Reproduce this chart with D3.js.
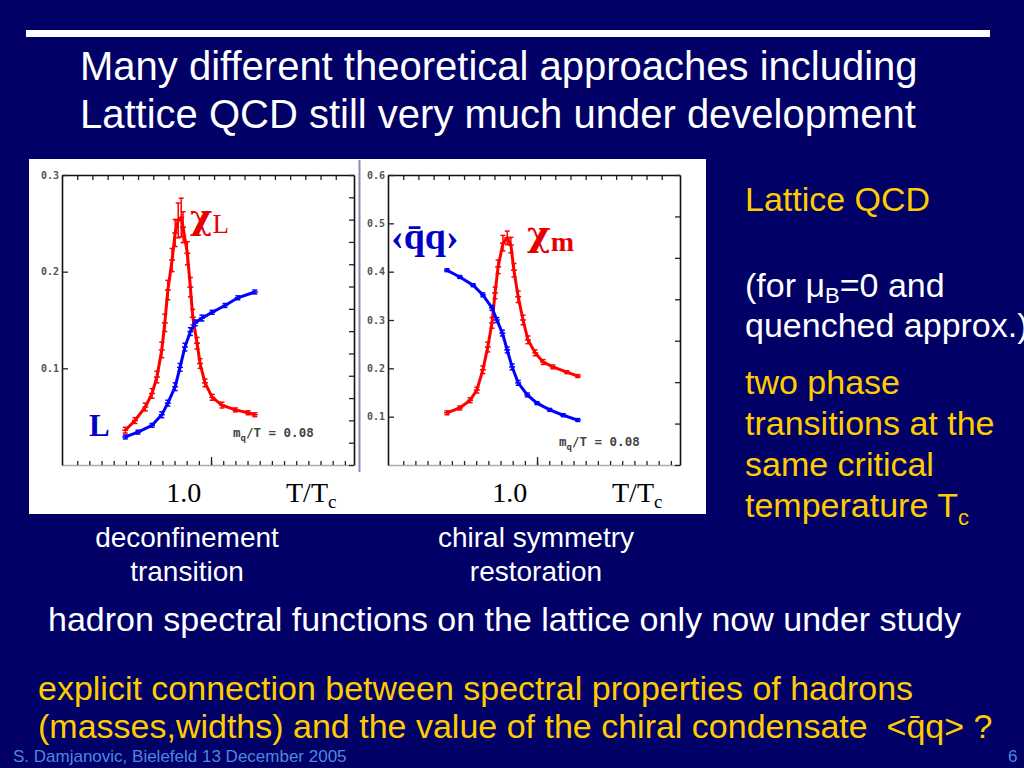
<!DOCTYPE html>
<html>
<head>
<meta charset="utf-8">
<script src="https://cdn.jsdelivr.net/npm/d3@7"></script>
<style>
  body { margin: 0; background: #000066; }
  svg { display: block; }
  .sans { font-family: Arial, "Liberation Sans", Helvetica, sans-serif; }
  .serif { font-family: "Times New Roman", "Liberation Serif", serif; }
  .greek { font-family: "DejaVu Serif", serif; }
  .tick text { font-family: "DejaVu Sans Mono", "Liberation Mono", monospace; font-size: 10px; fill: #555; font-weight: bold; }
</style>
</head>
<body>
<svg width="1024" height="768"></svg>
<script>
'use strict'

// ---- data (x = T/Tc) ----
const chiLT = [0.904, 0.920, 0.937, 0.948, 0.956, 0.964, 0.969, 0.974, 0.981, 0.986, 0.991, 0.996,
               0.999, 1.006, 1.011, 1.015, 1.022, 1.027, 1.035, 1.047, 1.063, 1.085, 1.106, 1.117]
const chiLV = [0.036, 0.046, 0.060, 0.074, 0.091, 0.119, 0.147, 0.181, 0.212, 0.240, 0.253, 0.256,
               0.246, 0.219, 0.184, 0.153, 0.126, 0.105, 0.085, 0.070, 0.062, 0.057, 0.054, 0.052]
const chiLErr = [0.003, 0.003, 0.004, 0.005, 0.006, 0.008, 0.009, 0.010, 0.012, 0.014, 0.018, 0.020,
                 0.016, 0.012, 0.010, 0.008, 0.006, 0.005, 0.004, 0.003, 0.003, 0.002, 0.002, 0.002]

const polyT = [0.904, 0.925, 0.948, 0.964, 0.974, 0.986, 0.994, 1.002, 1.011, 1.019, 1.030, 1.047, 1.068, 1.089, 1.117]
const polyV = [0.029, 0.034, 0.041, 0.052, 0.064, 0.081, 0.101, 0.122, 0.138, 0.147, 0.152, 0.158, 0.165, 0.173, 0.179]
const polyErr = [0.002, 0.002, 0.002, 0.003, 0.003, 0.004, 0.004, 0.004, 0.004, 0.003, 0.003, 0.002, 0.002, 0.002, 0.002]

const chiMT = [0.897, 0.918, 0.935, 0.946, 0.956, 0.964, 0.971, 0.976, 0.981, 0.989, 0.996,
               1.002, 1.007, 1.014, 1.022, 1.030, 1.042, 1.055, 1.071, 1.094, 1.112]
const chiMV = [0.108, 0.118, 0.134, 0.155, 0.197, 0.244, 0.294, 0.356, 0.410, 0.459, 0.470,
               0.455, 0.403, 0.348, 0.300, 0.259, 0.232, 0.213, 0.203, 0.192, 0.184]
const chiMErr = [0.004, 0.004, 0.005, 0.006, 0.008, 0.010, 0.011, 0.012, 0.014, 0.016, 0.014,
                 0.016, 0.014, 0.012, 0.010, 0.008, 0.006, 0.005, 0.004, 0.003, 0.003]

const pbpT = [0.897, 0.918, 0.940, 0.956, 0.971, 0.979, 0.988, 0.996, 1.004, 1.014, 1.029, 1.045, 1.066, 1.088, 1.112]
const pbpV = [0.403, 0.389, 0.372, 0.352, 0.325, 0.300, 0.273, 0.238, 0.203, 0.170, 0.145, 0.128, 0.114, 0.103, 0.093]
const pbpErr = [0.003, 0.003, 0.003, 0.004, 0.005, 0.005, 0.006, 0.006, 0.006, 0.005, 0.004, 0.003, 0.003, 0.003, 0.003]

const xDomain = [0.8, 1.28]
const topTicks = d3.range(0.825, 1.27, 0.025)
const bottomTicks = d3.range(0.825, 1.27, 0.02)
const bottomMajor = [1.045]
const leftYTicks = [0.1, 0.2, 0.3]
const rightYTicks = [0.1, 0.2, 0.3, 0.4, 0.5, 0.6]

const svg = d3.select('svg')
const yellow = '#ffcc00'
const red = '#ff0000'
const blue = '#0000ff'

svg.append('rect').attr('width', 1024).attr('height', 768).attr('fill', '#000066')

// top rule
svg.append('rect').attr('x', 26).attr('y', 30).attr('width', 964).attr('height', 7).attr('fill', '#fff')

// title
const title = ['Many different theoretical approaches including', 'Lattice QCD still very much under development']
svg.append('g').selectAll('text').data(title).enter().append('text')
    .attr('class', 'sans')
    .attr('x', 80)
    .attr('y', (d, i) => 80 + i * 48)
    .attr('fill', '#fff')
    .attr('font-size', 40)
    .text(d => d)

// white picture backgrounds
svg.append('rect').attr('x', 29).attr('y', 159).attr('width', 331).attr('height', 355).attr('fill', '#fff')
svg.append('rect').attr('x', 358).attr('y', 159).attr('width', 348).attr('height', 355).attr('fill', '#fff')
svg.append('line').attr('x1', 359.5).attr('x2', 359.5).attr('y1', 160).attr('y2', 472)
    .attr('stroke', '#8a8ab8').attr('stroke-width', 2)

function drawSeries(g, x, y, ts, vs, errs, color) {
    const pts = ts.map((t, i) => ({ t: t, v: vs[i], e: errs[i] }))
    g.append('path')
        .datum(pts)
        .attr('fill', 'none')
        .attr('stroke', color)
        .attr('stroke-width', 3)
        .attr('d', d3.line().x(d => x(d.t)).y(d => y(d.v)))
    const bars = g.append('g').attr('stroke', color).attr('stroke-width', 1.5)
        .selectAll('g').data(pts).enter().append('g')
    bars.append('line')
        .attr('x1', d => x(d.t)).attr('x2', d => x(d.t))
        .attr('y1', d => y(d.v - d.e)).attr('y2', d => y(d.v + d.e))
    bars.append('line')
        .attr('x1', d => x(d.t) - 2.5).attr('x2', d => x(d.t) + 2.5)
        .attr('y1', d => y(d.v + d.e)).attr('y2', d => y(d.v + d.e))
    bars.append('line')
        .attr('x1', d => x(d.t) - 2.5).attr('x2', d => x(d.t) + 2.5)
        .attr('y1', d => y(d.v - d.e)).attr('y2', d => y(d.v - d.e))
    bars.append('line')
        .attr('x1', d => x(d.t) - 3).attr('x2', d => x(d.t) + 3)
        .attr('y1', d => y(d.v)).attr('y2', d => y(d.v))
}

function panel(left, yMax, yTicks, rightMax, series, mqY) {
    const top = 175, bottom = 465, width = 292
    const x = d3.scaleLinear().domain(xDomain).range([left, left + width])
    const y = d3.scaleLinear().domain([0, yMax]).range([bottom, top])
    const yR = d3.scaleLinear().domain([0, rightMax]).range([bottom, top])
    const g = svg.append('g')

    const styleAxis = (a, stroke) => {
        a.select('.domain').attr('stroke', stroke).attr('stroke-width', 1.6)
        a.selectAll('.tick line').attr('stroke', '#222').attr('stroke-width', 1.3)
    }

    g.append('g').attr('transform', `translate(0,${bottom})`)
        .call(d3.axisBottom(x).tickValues(bottomTicks).tickSizeInner(-4).tickSizeOuter(0).tickFormat(''))
        .call(a => styleAxis(a, '#aaa'))
    g.append('g').attr('transform', `translate(0,${bottom})`)
        .call(d3.axisBottom(x).tickValues(bottomMajor).tickSizeInner(-8).tickSizeOuter(0).tickFormat(''))
        .call(a => { a.select('.domain').remove(); styleAxis(a, 'none') })
    g.append('g').attr('transform', `translate(0,${top})`)
        .call(d3.axisTop(x).tickValues(topTicks).tickSizeInner(-5).tickSizeOuter(0).tickFormat(''))
        .call(a => styleAxis(a, '#111'))
    g.append('g').attr('transform', `translate(${left + width},0)`)
        .call(d3.axisRight(yR).ticks(rightMax * 10).tickSizeInner(-5).tickSizeOuter(0).tickFormat(''))
        .call(a => styleAxis(a, '#111'))
    g.append('g').attr('transform', `translate(${left},0)`)
        .call(d3.axisLeft(y).tickValues(yTicks).tickSizeInner(-6).tickSizeOuter(0).tickPadding(3).tickFormat(d3.format('.1f')))
        .call(a => styleAxis(a, '#111'))

    series.forEach(s => drawSeries(g, x, y, s[0], s[1], s[2], s[3]))

    // m_q/T label
    const mq = g.append('text')
        .attr('x', left + 171).attr('y', mqY)
        .attr('font-family', '"DejaVu Sans Mono", monospace')
        .attr('font-size', 12.5).attr('font-weight', 'bold').attr('fill', '#444')
    mq.append('tspan').text('m')
    mq.append('tspan').attr('font-size', 9).attr('dy', 4).text('q')
    mq.append('tspan').attr('dy', -4).text('/T = 0.08')

    // x labels under the plot
    g.append('text').attr('class', 'serif')
        .attr('x', x(1.0)).attr('y', 502).attr('text-anchor', 'middle')
        .attr('font-size', 28).attr('fill', '#000').text('1.0')
    const tt = g.append('text').attr('class', 'serif')
        .attr('x', left + 224).attr('y', 502)
        .attr('font-size', 28).attr('fill', '#000')
    tt.append('tspan').text('T/T')
    tt.append('tspan').attr('font-size', 19).attr('dy', 6).text('c')
    return { x: x, y: y }
}

panel(62, 0.3, leftYTicks, 1.3, [[chiLT, chiLV, chiLErr, red], [polyT, polyV, polyErr, blue]], 437)
panel(388, 0.6, rightYTicks, 0.7, [[chiMT, chiMV, chiMErr, red], [pbpT, pbpV, pbpErr, blue]], 446)

// curve annotations
const chiL = svg.append('text').attr('class', 'serif').attr('x', 190).attr('y', 229)
    .attr('fill', '#e80000')
chiL.append('tspan').attr('class', 'greek').attr('font-size', 34).attr('font-weight', 'bold').text('χ')
chiL.append('tspan').attr('font-size', 27).attr('dy', 4).text('L')

svg.append('text').attr('class', 'serif').attr('x', 89).attr('y', 436)
    .attr('font-size', 31).attr('font-weight', 'bold').attr('fill', '#0000c8').text('L')

const chiM = svg.append('text').attr('class', 'serif').attr('x', 527).attr('y', 246)
    .attr('fill', '#e80000')
chiM.append('tspan').attr('class', 'greek').attr('font-size', 36).attr('font-weight', 'bold').text('χ')
chiM.append('tspan').attr('font-size', 28).attr('font-weight', 'bold').attr('dy', 5).text('m')

svg.append('text').attr('class', 'serif').attr('x', 391).attr('y', 249)
    .attr('font-size', 38).attr('font-weight', 'bold').attr('fill', '#0000c8').text('‹q\u0304q›')

// captions
const captions = [['deconfinement', 'transition', 187], ['chiral symmetry', 'restoration', 536]]
captions.forEach(c => {
    svg.append('g').selectAll('text').data([c[0], c[1]]).enter().append('text')
        .attr('class', 'sans').attr('x', c[2]).attr('y', (d, i) => 547 + i * 34)
        .attr('text-anchor', 'middle').attr('font-size', 28).attr('fill', '#fff').text(d => d)
})

// right column
const side = svg.append('g').attr('class', 'sans').attr('font-size', 34)
side.append('text').attr('x', 745).attr('y', 211).attr('fill', yellow).text('Lattice QCD')
const forLine = side.append('text').attr('x', 745).attr('y', 297).attr('fill', '#fff')
forLine.append('tspan').text('(for μ')
forLine.append('tspan').attr('font-size', 22).attr('dy', 6).text('B')
forLine.append('tspan').attr('dy', -6).text('=0 and')
side.append('text').attr('x', 745).attr('y', 337).attr('fill', '#fff').text('quenched approx.)')
const sideLines = ['two phase', 'transitions at the', 'same critical']
side.append('g').selectAll('text').data(sideLines).enter().append('text')
    .attr('x', 745).attr('y', (d, i) => 394 + i * 41).attr('fill', yellow).text(d => d)
const temp = side.append('text').attr('x', 745).attr('y', 517).attr('fill', yellow)
temp.append('tspan').text('temperature T')
temp.append('tspan').attr('font-size', 22).attr('dy', 8).text('c')

// lower text
svg.append('text').attr('class', 'sans').attr('x', 48).attr('y', 631)
    .attr('font-size', 34).attr('fill', '#fff')
    .text('hadron spectral functions on the lattice only now under study')
const lower = ['explicit connection between spectral properties of hadrons',
               '(masses,widths) and the value of the chiral condensate  <q\u0304q> ?']
svg.append('g').selectAll('text').data(lower).enter().append('text')
    .attr('class', 'sans').attr('x', 38).attr('y', (d, i) => 700 + i * 38)
    .attr('font-size', 34).attr('fill', yellow)
    .style('white-space', 'pre')
    .text(d => d)

// footer
svg.append('text').attr('class', 'sans').attr('x', 13).attr('y', 762)
    .attr('font-size', 17).attr('fill', '#4f86e0').text('S. Damjanovic, Bielefeld 13 December 2005')
svg.append('text').attr('class', 'sans').attr('x', 1008).attr('y', 762)
    .attr('font-size', 17).attr('fill', '#4f86e0').text('6')
</script>
</body>
</html>
